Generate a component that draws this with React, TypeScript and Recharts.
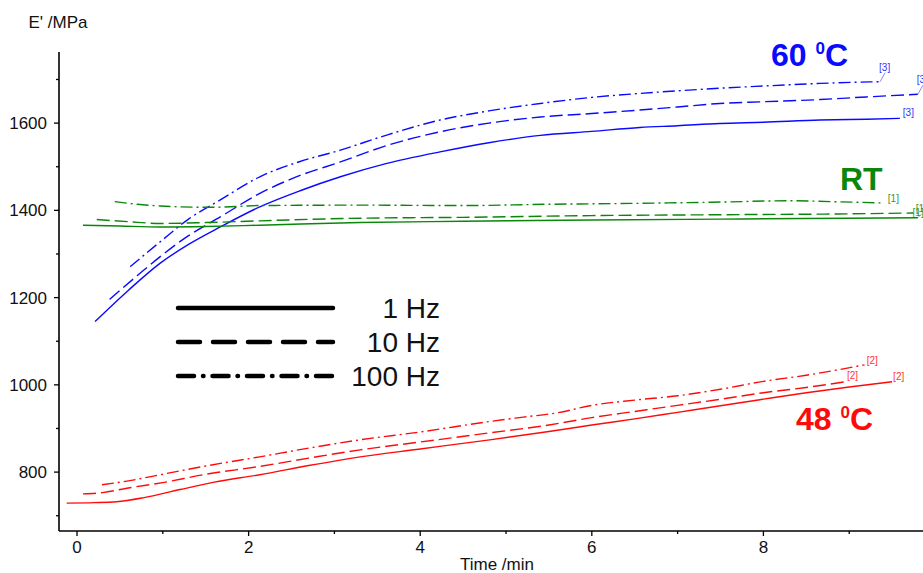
import React from 'react';
import { LineChart, Line, XAxis, YAxis, Customized } from 'recharts';

// ---- data (Time /min, E' /MPa) ----
const t60_1Hz = [0.21, 0.6, 0.97, 1.3, 1.67, 2.13, 2.6, 3.07, 3.6, 4.23, 4.8, 5.4, 6.0, 6.56, 7.0, 7.49, 8.0, 8.66, 9.2, 9.59];
const e60_1Hz = [1145, 1217, 1279, 1322, 1362, 1408, 1445, 1477, 1507, 1534, 1555, 1572, 1581, 1590, 1594, 1599, 1602, 1607, 1609, 1611];

const t60_10Hz = [0.38, 0.7, 0.97, 1.3, 1.67, 2.13, 2.6, 3.07, 3.6, 4.23, 4.8, 5.4, 6.0, 6.56, 7.0, 7.49, 8.0, 8.66, 9.2, 9.8];
const e60_10Hz = [1196, 1250, 1294, 1342, 1385, 1439, 1480, 1511, 1548, 1580, 1600, 1614, 1622, 1630, 1637, 1645, 1649, 1654, 1660, 1666];

const t60_100Hz = [0.62, 0.97, 1.3, 1.67, 2.13, 2.6, 3.07, 3.6, 4.23, 4.8, 5.4, 6.0, 6.56, 7.0, 7.49, 8.0, 8.66, 9.36];
const e60_100Hz = [1271, 1328, 1380, 1424, 1477, 1512, 1538, 1572, 1607, 1628, 1645, 1659, 1668, 1674, 1680, 1685, 1691, 1695];

const tRT_1Hz = [0.07, 0.5, 0.97, 1.5, 2.13, 3.3, 4.5, 6.0, 7.5, 9.0, 9.8];
const eRT_1Hz = [1366, 1364, 1362, 1363, 1366, 1372, 1375, 1378, 1380, 1382, 1383];

const tRT_10Hz = [0.23, 0.6, 0.97, 1.5, 2.13, 3.3, 4.5, 6.0, 7.5, 9.0, 9.75];
const eRT_10Hz = [1379, 1374, 1370, 1372, 1376, 1382, 1384, 1388, 1390, 1392, 1394];

const tRT_100Hz = [0.44, 0.7, 0.97, 1.55, 2.13, 3.3, 4.5, 5.5, 6.5, 7.5, 8.3, 8.8, 9.38];
const eRT_100Hz = [1420, 1414, 1410, 1407, 1411, 1412, 1411, 1414, 1416, 1419, 1422, 1420, 1417];

const t48_1Hz = [-0.12, 0.2, 0.46, 0.77, 1.2, 1.6, 2.13, 2.7, 3.3, 4.0, 4.81, 5.5, 6.0, 6.5, 7.0, 7.5, 7.96, 8.5, 9.0, 9.5];
const e48_1Hz = [729, 730, 732, 741, 760, 777, 794, 815, 835, 853, 874, 893, 908, 922, 937, 952, 966, 982, 995, 1007];

const t48_10Hz = [0.07, 0.3, 0.58, 1.0, 1.5, 2.13, 2.7, 3.3, 4.0, 4.81, 5.5, 6.0, 6.5, 7.0, 7.5, 8.0, 8.5, 8.95];
const e48_10Hz = [750, 753, 763, 776, 795, 813, 832, 851, 869, 890, 908, 925, 939, 953, 967, 982, 994, 1007];

const t48_100Hz = [0.29, 0.6, 0.97, 1.5, 2.13, 2.7, 3.3, 4.0, 4.81, 5.2, 5.6, 6.0, 6.5, 7.0, 7.5, 8.0, 8.5, 9.18];
const e48_100Hz = [771, 780, 794, 814, 835, 855, 874, 892, 916, 926, 936, 953, 965, 975, 990, 1008, 1022, 1046];

const xTicks = [0, 1, 2, 3, 4, 5, 6, 7, 8, 9];
const yTicks = [700, 800, 900, 1000, 1100, 1200, 1300, 1400, 1500, 1600, 1700];
const legendLabels = ['1 Hz', '10 Hz', '100 Hz'];
const groupLabels = ['60 ', 'RT', '48 '];
const endTags = ['[3]', '[1]', '[2]'];

const zip = (t: number[], e: number[]) => t.map((x, i) => ({ t: x, e: e[i] }));

const BLUE = '#0a0aff';
const GREEN = '#0a870a';
const RED = '#ff0a0a';
const FONT = '"Liberation Sans", Arial, sans-serif';

const DASH = '13 5';
const DASHDOT = '12 4 2 4';

const series = [
  { id: 'b1', data: zip(t60_1Hz, e60_1Hz), color: BLUE, dash: undefined, tag: endTags[0], dx: 3, dy: -2 },
  { id: 'b10', data: zip(t60_10Hz, e60_10Hz), color: BLUE, dash: DASH, tag: endTags[0], dx: -1, dy: -11 },
  { id: 'b100', data: zip(t60_100Hz, e60_100Hz), color: BLUE, dash: DASHDOT, tag: endTags[0], dx: -1, dy: -11 },
  { id: 'g1', data: zip(tRT_1Hz, eRT_1Hz), color: GREEN, dash: undefined, tag: endTags[1], dx: -2, dy: -6 },
  { id: 'g10', data: zip(tRT_10Hz, eRT_10Hz), color: GREEN, dash: DASH, tag: endTags[1], dx: -1, dy: 3 },
  { id: 'g100', data: zip(tRT_100Hz, eRT_100Hz), color: GREEN, dash: DASHDOT, tag: endTags[1], dx: 6, dy: -1 },
  { id: 'r1', data: zip(t48_1Hz, e48_1Hz), color: RED, dash: undefined, tag: endTags[2], dx: 1, dy: -2 },
  { id: 'r10', data: zip(t48_10Hz, e48_10Hz), color: RED, dash: DASH, tag: endTags[2], dx: 2, dy: -3 },
  { id: 'r100', data: zip(t48_100Hz, e48_100Hz), color: RED, dash: DASHDOT, tag: endTags[2], dx: 2, dy: -1 },
];

const makeEndLabel = (n: number, text: string, color: string, dx: number, dy: number) => (p: any) => {
  if (p == null || p.index !== n - 1) return <g />;
  const x = Number(p.x);
  const y = Number(p.y);
  return (
    <g>
      {dy < -5 ? (
        <line x1={x} y1={y} x2={x + dx + 6} y2={y + dy + 2} stroke={color} strokeWidth={0.6} opacity={0.8} />
      ) : null}
      <text x={x + dx} y={y + dy} fontSize={10} fill={color} fontFamily={FONT} opacity={0.85}>
        {text}
      </text>
    </g>
  );
};

const XTick = (props: any) => {
  const { x, y, payload } = props;
  const v = payload.value;
  const major = v % 2 === 0;
  return (
    <g>
      <line x1={x} y1={y} x2={x} y2={y + (major ? 5 : 3)} stroke="#000" strokeWidth={1.3} />
      {major ? (
        <text x={x} y={y + 22} textAnchor="middle" fontSize={17} fill="#111" fontFamily={FONT}>
          {v}
        </text>
      ) : null}
    </g>
  );
};

const YTick = (props: any) => {
  const { x, y, payload } = props;
  const v = payload.value;
  const major = v % 200 === 0;
  return (
    <g>
      <line x1={x - (major ? 5 : 3)} y1={y} x2={x} y2={y} stroke="#000" strokeWidth={1.3} />
      {major ? (
        <text x={x - 12} y={y + 6} textAnchor="end" fontSize={17} fill="#111" fontFamily={FONT}>
          {v}
        </text>
      ) : null}
    </g>
  );
};

const Overlay = () => (
  <g fontFamily={FONT}>
    {/* axis titles */}
    <text x={58} y={28} textAnchor="middle" fontSize={17} fill="#111">E' /MPa</text>
    <text x={497} y={570} textAnchor="middle" fontSize={17} fill="#111">Time /min</text>

    {/* group labels */}
    <text x={771} y={66} fontSize={32} fontWeight="bold" fill={BLUE}>
      {groupLabels[0]}
      <tspan fontSize={17} dy={-12}>0</tspan>
      <tspan dy={12}>C</tspan>
    </text>
    <text x={840} y={190} fontSize={32} fontWeight="bold" fill={GREEN}>{groupLabels[1]}</text>
    <text x={796} y={430} fontSize={32} fontWeight="bold" fill={RED}>
      {groupLabels[2]}
      <tspan fontSize={17} dy={-12}>0</tspan>
      <tspan dy={12}>C</tspan>
    </text>

    {/* frequency legend */}
    <line x1={178} y1={308} x2={333} y2={308} stroke="#000" strokeWidth={4.5} strokeLinecap="round" />
    <line x1={178} y1={342} x2={333} y2={342} stroke="#000" strokeWidth={4.5} strokeLinecap="round" strokeDasharray="22 13" />
    <line x1={178} y1={376} x2={333} y2={376} stroke="#000" strokeWidth={4.5} strokeLinecap="round" strokeDasharray="16 9 0.5 9" />
    <text x={440} y={318} textAnchor="end" fontSize={28} fill="#111">{legendLabels[0]}</text>
    <text x={440} y={352} textAnchor="end" fontSize={28} fill="#111">{legendLabels[1]}</text>
    <text x={440} y={386} textAnchor="end" fontSize={28} fill="#111">{legendLabels[2]}</text>
  </g>
);

export default function App() {
  return (
    <div style={{ position: 'absolute', left: 0, top: 0, width: 923, height: 573, background: '#fff' }}>
      <LineChart width={923} height={573} margin={{ top: 52, right: 0, bottom: 12, left: 9 }} style={{ fontFamily: FONT }}>
        <XAxis
          type="number"
          dataKey="t"
          domain={[-0.21, 9.86]}
          allowDataOverflow
          ticks={xTicks}
          interval={0}
          tickLine={false}
          tickSize={0}
          tickMargin={0}
          tick={<XTick />}
          height={30}
          axisLine={{ stroke: '#000', strokeWidth: 1.6 }}
        />
        <YAxis
          type="number"
          dataKey="e"
          domain={[665, 1763]}
          allowDataOverflow
          ticks={yTicks}
          interval={0}
          tickLine={false}
          tickSize={0}
          tickMargin={0}
          tick={<YTick />}
          width={50}
          axisLine={{ stroke: '#000', strokeWidth: 1.6 }}
        />
        {series.map((s) => (
          <Line
            key={s.id}
            data={s.data}
            dataKey="e"
            type="monotone"
            stroke={s.color}
            strokeWidth={1.4}
            strokeDasharray={s.dash}
            dot={false}
            activeDot={false}
            isAnimationActive={false}
            label={makeEndLabel(s.data.length, s.tag, s.color, s.dx, s.dy)}
          />
        ))}
        <Customized component={Overlay} />
      </LineChart>
    </div>
  );
}
